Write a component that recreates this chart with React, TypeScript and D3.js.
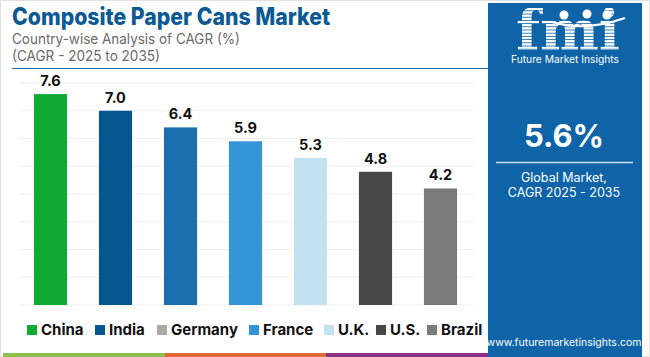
import React from "react";
import * as d3 from "d3";

const countries = ["China", "India", "Germany", "France", "U.K.", "U.S.", "Brazil"];
const cagrValues = [7.6, 7.0, 6.4, 5.9, 5.3, 4.8, 4.2];
const barColors = ["#0eaa32", "#06568f", "#1b6fae", "#3394d6", "#c2e1f2", "#474747", "#7b7b7b"];
const legendColors = ["#0eaa32", "#06568f", "#a9a9a9", "#3394d6", "#c2e1f2", "#474747", "#7b7b7b"];
const gridTicks = [0, 1, 2, 3, 4, 5, 6, 7, 8];
const legendX = [27, 95, 157, 249, 324, 376, 427];

export default function App() {
  const W = 650, H = 357;
  const x = d3.scaleBand<string>().domain(countries).range([18, 473]).paddingInner(0.49).paddingOuter(0.245);
  const y = d3.scaleLinear().domain([0, 8]).range([305, 83]);
  const font = "Inter, 'Open Sans', sans-serif";
  const stripes = d3.range(0, 14);
  return (
    <svg width={W} height={H} style={{ position: "absolute", left: 0, top: 0 }} fontFamily={font}>
      <rect x={0} y={0} width={W} height={H} fill="#fff" />
      <rect x={0.5} y={0.5} width={W - 1} height={H - 1} fill="none" stroke="#e2e2e2" />
      {/* title */}
      <text x={12} y={25} fontSize={24} fontWeight={800} fill="#0b5a94" textLength={318} lengthAdjust="spacingAndGlyphs">Composite Paper Cans Market</text>
      <text x={12} y={44} fontSize={14.5} fill="#6b6b6b" textLength={228} lengthAdjust="spacingAndGlyphs">Country-wise Analysis of CAGR (%)</text>
      <text x={12} y={61} fontSize={14.5} fill="#6b6b6b" textLength={148} lengthAdjust="spacingAndGlyphs">(CAGR - 2025 to 2035)</text>
      <line x1={12} x2={488} y1={68.5} y2={68.5} stroke="#2a6fa6" strokeWidth={1.2} />
      {/* grid */}
      {gridTicks.map((t) => (
        <line key={t} x1={19} x2={473} y1={y(t)} y2={y(t)} stroke="#efefef" strokeWidth={1} />
      ))}
      {/* bars */}
      {countries.map((c, i) => (
        <g key={c}>
          <rect x={x(c)} y={y(cagrValues[i])} width={x.bandwidth()} height={y(0) - y(cagrValues[i])} fill={barColors[i]} />
          <text x={(x(c) as number) + x.bandwidth() / 2} y={y(cagrValues[i]) - 8} textAnchor="middle" fontSize={14.5} fontWeight={700} fill="#111">
            {cagrValues[i].toFixed(1)}
          </text>
        </g>
      ))}
      {/* legend */}
      {countries.map((c, i) => (
        <g key={"lg" + c}>
          <rect x={legendX[i]} y={325} width={10} height={10} fill={legendColors[i]} />
          <text x={legendX[i] + 14} y={335} fontSize={15} fontWeight={700} fill="#111">{c}</text>
        </g>
      ))}
      {/* bottom strips */}
      <rect x={3} y={353} width={162} height={4} fill="#8dbf4f" />
      <rect x={165} y={353} width={161} height={4} fill="#e06a35" />
      <rect x={326} y={353} width={162} height={4} fill="#8c2f86" />
      {/* right panel */}
      <rect x={488} y={3} width={154} height={354} fill="#0e64a6" />
      {/* logo */}
      <defs>
        <clipPath id="fmiclip">
          <text x={516} y={50} fontSize={56} fontWeight={700} fontFamily="'DejaVu Serif', serif" textLength={104} lengthAdjust="spacingAndGlyphs">fmi</text>
        </clipPath>
      </defs>
      <g clipPath="url(#fmiclip)">
        {stripes.map((s) => (
          <rect key={s} x={512} y={8 + s * 3.2} width={115} height={2.4} fill="#fff" />
        ))}
      </g>
      <circle cx={564} cy={15} r={4.5} fill="#fff" />
      <circle cx={587} cy={14} r={4.5} fill="#fff" />
      <circle cx={607} cy={15} r={4.5} fill="#fff" />
      <path d="M 552 22 Q 585 32 625 18" fill="none" stroke="#fff" strokeWidth={2} />
      <text x={565} y={63} textAnchor="middle" fontSize={10.5} fill="#fff" textLength={108} lengthAdjust="spacingAndGlyphs">Future Market Insights</text>
      <text x={564} y={147} textAnchor="middle" fontSize={31} fontWeight={700} fill="#fff">5.6%</text>
      <line x1={496} x2={633} y1={162.5} y2={162.5} stroke="#cfe2f1" strokeWidth={1.5} />
      <text x={564} y={182} textAnchor="middle" fontSize={12.5} fill="#fff">Global Market,</text>
      <text x={564} y={197} textAnchor="middle" fontSize={12.5} fill="#fff">CAGR 2025 - 2035</text>
      <text x={564} y={346} textAnchor="middle" fontSize={10.5} fill="#fff">www.futuremarketinsights.com</text>
    </svg>
  );
}
